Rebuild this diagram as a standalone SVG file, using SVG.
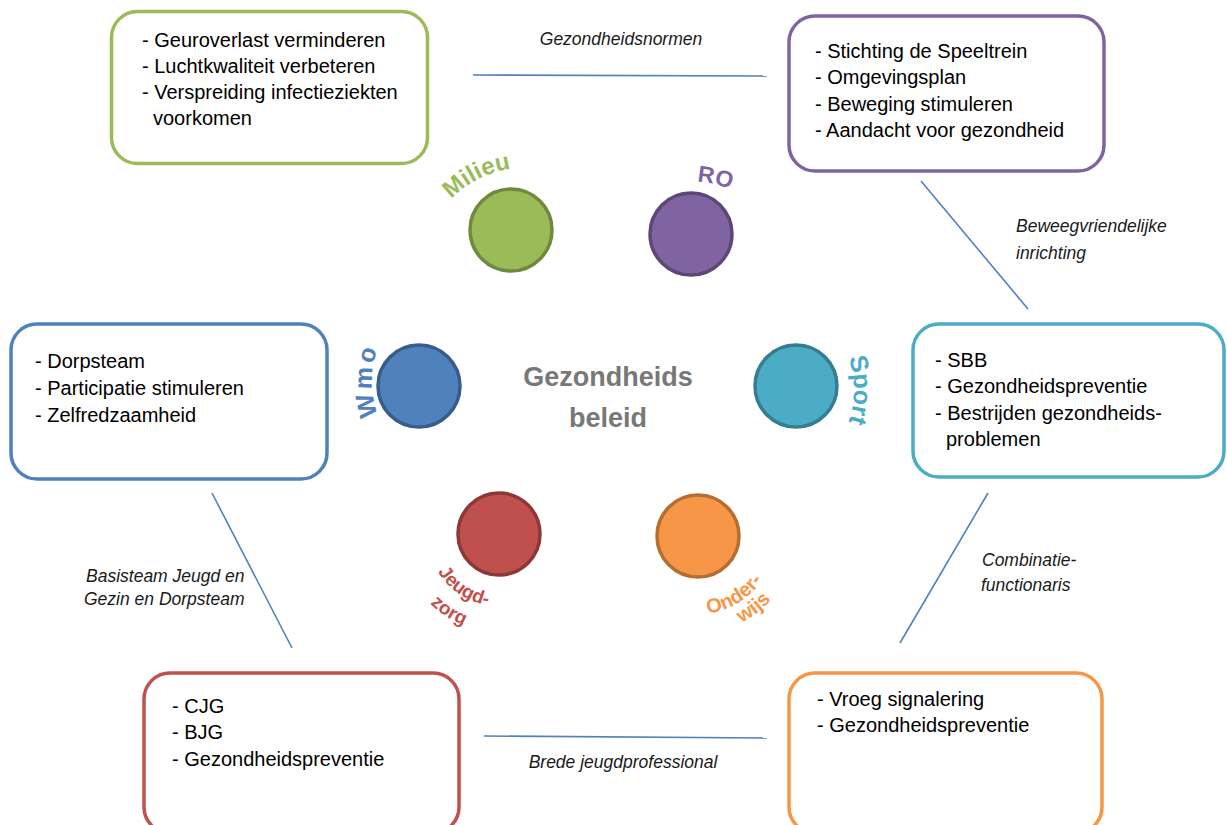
<svg xmlns="http://www.w3.org/2000/svg" width="1227" height="825" viewBox="0 0 1227 825">
<style>
.box{fill:#fff;stroke-width:3.5}
.bt{font-family:"Liberation Sans",Arial,sans-serif;font-size:20px;fill:#000}
.lbl{font-family:"Liberation Sans",Arial,sans-serif;font-size:17.5px;font-style:italic;fill:#1a1a1a}
.conn{stroke:#4f81bd;stroke-width:1.6;fill:none}
.circ{stroke-width:3.5}
.arc{font-family:"Liberation Sans",Arial,sans-serif;font-weight:bold}
.center{font-family:"Liberation Sans",Arial,sans-serif;font-weight:bold;font-size:27px;fill:#787878;text-anchor:middle}
</style>
<defs>
<path id="pMilieu" d="M447.4 203.7 A100 100 0 0 1 574 181.4"/>
<path id="pRO" d="M657.3 187.4 A100 100 0 0 1 768.1 217.1"/>
<path id="pWmo" d="M385.1 430 A98 98 0 0 1 385.1 332"/>
<path id="pSport" d="M840.9 341 A98 98 0 0 1 840.9 439"/>
<path id="pJeugd" d="M436.6 570 A72 72 0 0 0 511.5 604.9"/>
<path id="pZorg" d="M419.2 590.5 A98 98 0 0 0 499 632"/>
<path id="pOnder" d="M698 614 A78 78 0 0 0 773.3 556.2"/>
<path id="pWijs" d="M698 633 A97 97 0 0 0 789.2 569.2"/>
</defs>

<g id="connectors">
<line class="conn" x1="473" y1="75" x2="767" y2="76"/>
<line class="conn" x1="921" y1="181" x2="1028" y2="309"/>
<line class="conn" x1="212" y1="493" x2="292" y2="648"/>
<line class="conn" x1="988" y1="493" x2="900" y2="643"/>
<line class="conn" x1="484" y1="736" x2="767" y2="738"/>
<text class="lbl" x="621" y="45" text-anchor="middle">Gezondheidsnormen</text>
<text class="lbl" x="1016" y="232">Beweegvriendelijke</text>
<text class="lbl" x="1016" y="259">inrichting</text>
<text class="lbl" x="982" y="566">Combinatie-</text>
<text class="lbl" x="981" y="591">functionaris</text>
<text class="lbl" x="86" y="582">Basisteam Jeugd en</text>
<text class="lbl" x="84" y="605">Gezin en Dorpsteam</text>
<text class="lbl" x="623" y="768" text-anchor="middle">Brede jeugdprofessional</text>
</g>

<g id="box-milieu">
<rect class="box" x="111.5" y="11.5" width="316" height="152" rx="26" stroke="#9bbb59"/>
<text class="bt" x="142" y="47">- Geuroverlast verminderen</text>
<text class="bt" x="142" y="73">- Luchtkwaliteit verbeteren</text>
<text class="bt" x="142" y="99">- Verspreiding infectieziekten</text>
<text class="bt" x="153" y="125">voorkomen</text>
</g>

<g id="box-ro">
<rect class="box" x="789" y="16" width="315" height="155" rx="26" stroke="#8064a2"/>
<text class="bt" x="815" y="58">- Stichting de Speeltrein</text>
<text class="bt" x="815" y="84">- Omgevingsplan</text>
<text class="bt" x="815" y="111">- Beweging stimuleren</text>
<text class="bt" x="815" y="137">- Aandacht voor gezondheid</text>
</g>

<g id="box-wmo">
<rect class="box" x="11" y="324" width="316" height="155" rx="26" stroke="#4f81bd"/>
<text class="bt" x="35" y="368">- Dorpsteam</text>
<text class="bt" x="35" y="395">- Participatie stimuleren</text>
<text class="bt" x="35" y="422">- Zelfredzaamheid</text>
</g>

<g id="box-sport">
<rect class="box" x="913" y="324" width="311" height="153" rx="26" stroke="#4bacc6"/>
<text class="bt" x="935" y="367">- SBB</text>
<text class="bt" x="935" y="393">- Gezondheidspreventie</text>
<text class="bt" x="935" y="420">- Bestrijden gezondheids-</text>
<text class="bt" x="946" y="446">problemen</text>
</g>

<g id="box-jeugdzorg">
<rect class="box" x="144" y="673" width="315" height="160" rx="26" stroke="#c0504d"/>
<text class="bt" x="172" y="713">- CJG</text>
<text class="bt" x="172" y="739">- BJG</text>
<text class="bt" x="172" y="766">- Gezondheidspreventie</text>
</g>

<g id="box-onderwijs">
<rect class="box" x="789" y="673" width="313" height="160" rx="26" stroke="#f79646"/>
<text class="bt" x="817" y="706">- Vroeg signalering</text>
<text class="bt" x="817" y="732">- Gezondheidspreventie</text>
</g>

<g id="center">
<text class="center" x="608" y="386">Gezondheids</text>
<text class="center" x="608" y="427">beleid</text>
</g>

<g id="node-milieu">
<circle class="circ" cx="511" cy="230" r="41" fill="#9bbb59" stroke="#71893f"/>
<text class="arc" font-size="24" fill="#9bbb59"><textPath href="#pMilieu" startOffset="6">Milieu</textPath></text>
</g>
<g id="node-ro">
<circle class="circ" cx="691" cy="234" r="41" fill="#8064a2" stroke="#5c4776"/>
<text class="arc" font-size="23" fill="#8064a2" text-anchor="middle"><textPath href="#pRO" startOffset="57.6">RO</textPath></text>
</g>
<g id="node-wmo">
<circle class="circ" cx="419" cy="386" r="41" fill="#4f81bd" stroke="#385d8a"/>
<text class="arc" font-size="25" fill="#4f81bd" text-anchor="middle" letter-spacing="3"><textPath href="#pWmo" startOffset="50%">Wmo</textPath></text>
</g>
<g id="node-sport">
<circle class="circ" cx="796" cy="386" r="41" fill="#4bacc6" stroke="#357d91"/>
<text class="arc" font-size="25" fill="#4bacc6" text-anchor="middle"><textPath href="#pSport" startOffset="50%">Sport</textPath></text>
</g>
<g id="node-jeugdzorg">
<circle class="circ" cx="499" cy="534" r="41" fill="#c0504d" stroke="#8c3836"/>
<text class="arc" font-size="19" fill="#c0504d"><textPath href="#pJeugd" startOffset="2">Jeugd-</textPath></text>
<text class="arc" font-size="19" fill="#c0504d"><textPath href="#pZorg" startOffset="17">zorg</textPath></text>
</g>
<g id="node-onderwijs">
<circle class="circ" cx="698" cy="536" r="41" fill="#f79646" stroke="#b66d31"/>
<text class="arc" font-size="20" fill="#f79646"><textPath href="#pOnder" startOffset="10">Onder-</textPath></text>
<text class="arc" font-size="20" fill="#f79646"><textPath href="#pWijs" startOffset="45">wijs</textPath></text>
</g>
</svg>
